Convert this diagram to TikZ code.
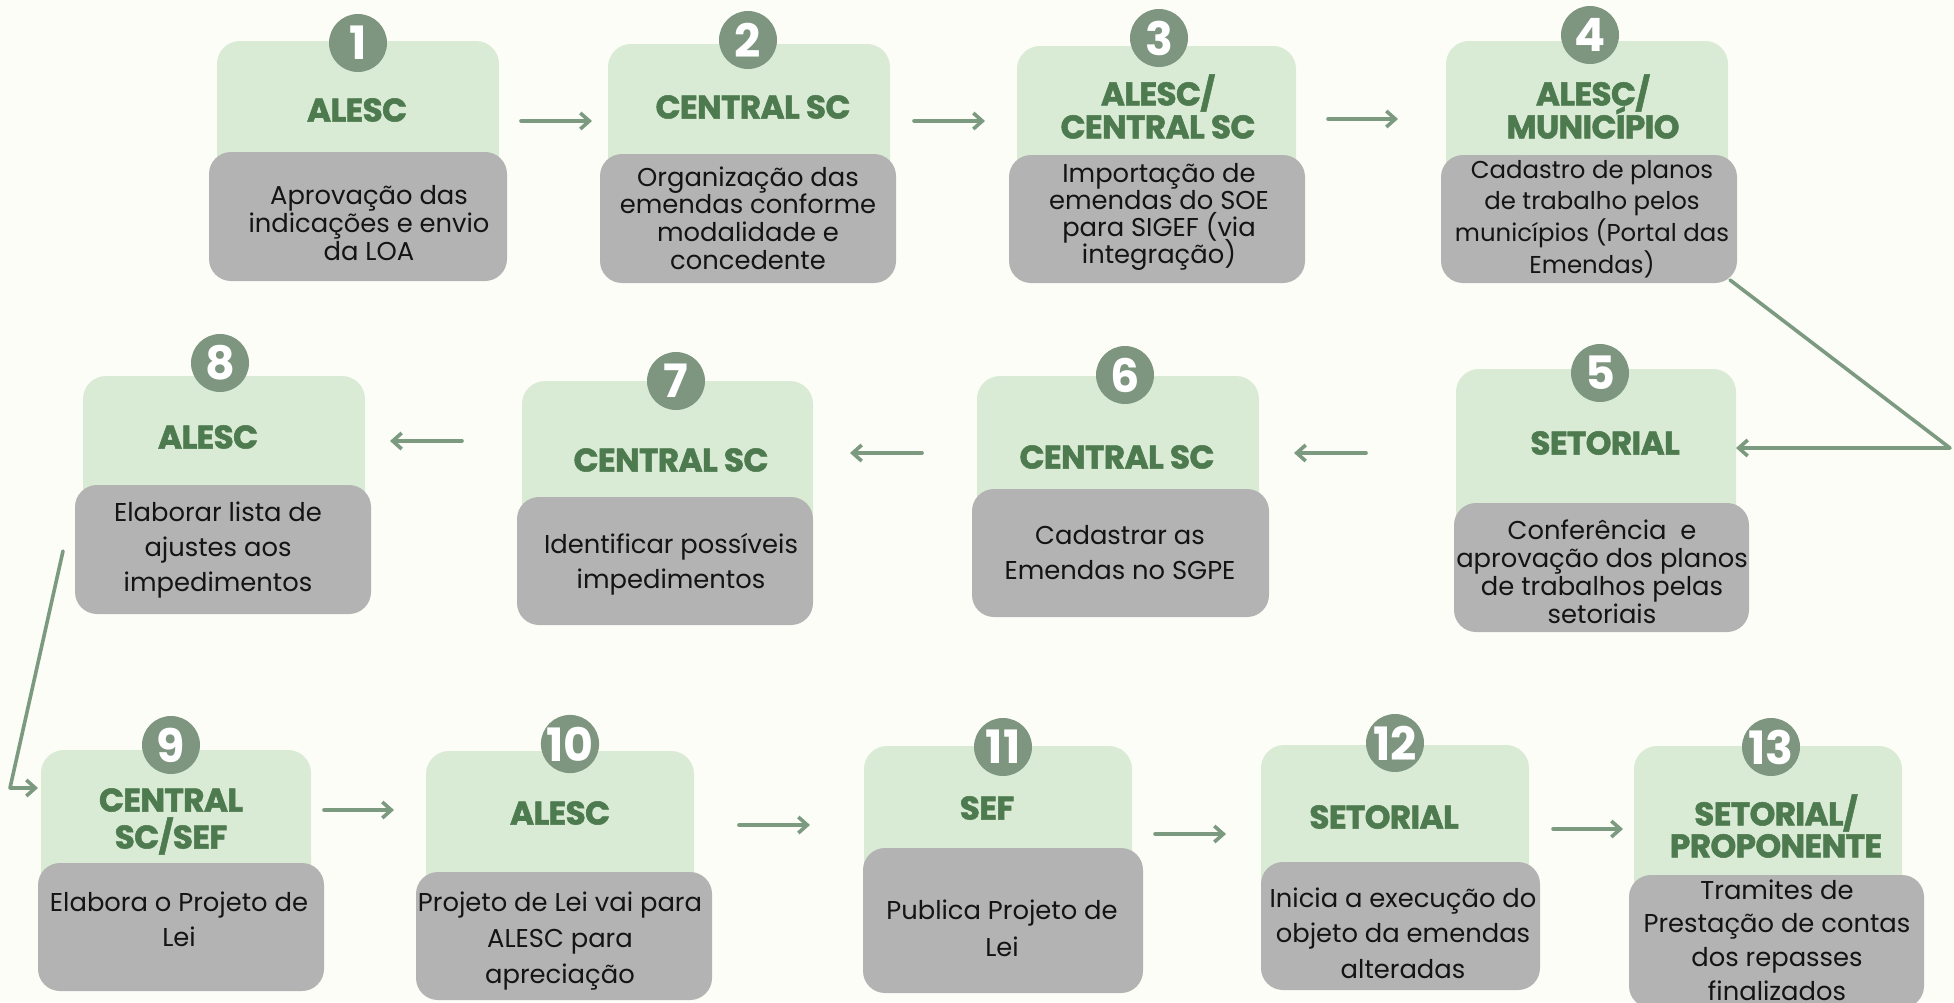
\documentclass[tikz,border=0pt]{standalone}
\usepackage{fontspec}
\setmainfont{Poppins}
\newfontfamily\ttlfont{Poppins}[BoldFeatures={FakeBold=1.6}, LetterSpace=-2.0]
\usetikzlibrary{arrows.meta,fit}
\definecolor{bgc}{HTML}{FDFDF8}
\definecolor{greenfill}{HTML}{D9EBD4}
\definecolor{grayfill}{HTML}{B3B3B3}
\definecolor{circc}{HTML}{7E9680}
\definecolor{titlec}{HTML}{4E7A50}
\definecolor{arrc}{HTML}{7B9A80}
\definecolor{bodyc}{HTML}{141414}
\begin{document}
\begin{tikzpicture}[x=0.5pt,y=-0.5pt,
  greenbox/.style={inner sep=0pt, outer sep=0pt, fill=greenfill, rounded corners=11.5pt},
  graybox/.style={inner sep=0pt, outer sep=0pt, fill=grayfill, rounded corners=11pt},
  numc/.style={circle, fill=circc, text=white, minimum size=29pt, inner sep=0pt,
    font={\fontsize{23}{23}\selectfont\bfseries}},
  ttl/.style={text=titlec, align=center, inner sep=0pt,
    font={\ttlfont\fontsize{16.4}{#1}\selectfont\bfseries\lineskiplimit=-50pt}},
  ttl/.default=16.5pt,
  bodytxt/.style={text=bodyc, align=center, inner sep=0pt,
    font={\fontsize{12.9}{#1}\selectfont\lineskiplimit=-50pt}},
  arr/.style={draw=arrc, line width=1.8pt, line cap=round, line join=round,
    -{Straight Barb[length=4.5pt,width=8pt,line width=1.8pt]}}
]
\path[use as bounding box] (0,0) rectangle (1954,1002);
\clip (0,0) rectangle (1954,1002);
\fill[bgc] (0,0) rectangle (1954,1002);

% ---------- Row 1 ----------
\node[greenbox, fit={(217,41) (499,200)}] (g1) {};
\node[graybox, fit={(209,152) (507,281)}] (k1) {};
\node[numc] (n1) at (358,43) {1};
\node[ttl] (t1) at (357,110) {ALESC};
\node[bodytxt=13.9pt] (b1) at (369,223) {Aprovação das\\indicações e envio\\da LOA};

\node[greenbox, fit={(608,44) (890,200)}] (g2) {};
\node[graybox, fit={(600,154) (896,283)}] (k2) {};
\node[numc] (n2) at (748,40) {2};
\node[ttl] (t2) at (753,107) {CENTRAL SC};
\node[bodytxt=13.9pt] (b2) at (748,218) {Organização das\\emendas conforme\\modalidade e\\concedente};

\node[greenbox, fit={(1017,46) (1296,200)}] (g3) {};
\node[graybox, fit={(1009,155) (1305,283)}] (k3) {};
\node[numc] (n3) at (1159,38) {3};
\node[ttl] (t3) at (1158,106.5) {ALESC/\\CENTRAL SC};
\node[bodytxt=13.5pt] (b3) at (1159,217) {Importação de\\emendas do SOE\\para SIGEF (via\\integração)};

\node[greenbox, fit={(1446,41) (1728,200)}] (g4) {};
\node[graybox, fit={(1441,155) (1737,283)}] (k4) {};
\node[numc] (n4) at (1590,35) {4};
\node[ttl] (t4) at (1593,106.5) {ALESC/\\MUNICÍPIO};
\node[bodytxt=15.8pt, font={\fontsize{12.2}{15.8}\selectfont\lineskiplimit=-50pt}] (b4) at (1592,219) {Cadastro de planos\\de trabalho pelos\\municípios (Portal das\\Emendas)};

% ---------- Row 2 ----------
\node[greenbox, fit={(1456,369) (1736,540)}] (g5) {};
\node[graybox, fit={(1454,503) (1749,632)}] (k5) {};
\node[numc] (n5) at (1600,373) {5};
\node[ttl] (t5) at (1605,443) {SETORIAL};
\node[bodytxt=14pt] (b5) at (1602,572) {Conferência\ \ e\\aprovação dos planos\\de trabalhos pelas\\setoriais};

\node[greenbox, fit={(977,376) (1259,530)}] (g6) {};
\node[graybox, fit={(972,489) (1269,617)}] (k6) {};
\node[numc] (n6) at (1125,375) {6};
\node[ttl] (t6) at (1117,457) {CENTRAL SC};
\node[bodytxt=17.5pt] (b6) at (1120,552.5) {Cadastrar as\\Emendas no SGPE};

\node[greenbox, fit={(522,381) (813,537)}] (g7) {};
\node[graybox, fit={(517,497) (813,625)}] (k7) {};
\node[numc] (n7) at (676,381) {7};
\node[ttl] (t7) at (671,460) {CENTRAL SC};
\node[bodytxt=17.5pt] (b7) at (671,564.5) {Identificar possíveis\\impedimentos};

\node[greenbox, fit={(83,376) (365,525)}] (g8) {};
\node[graybox, fit={(75,485) (371,614)}] (k8) {};
\node[numc] (n8) at (220,363) {8};
\node[ttl] (t8) at (208,437) {ALESC};
\node[bodytxt=17.5pt] (b8) at (218,550) {Elaborar lista de\\ajustes aos\\impedimentos};

% ---------- Row 3 ----------
\node[greenbox, fit={(41,750) (311,903)}] (g9) {};
\node[graybox, fit={(38,863) (324,991)}] (k9) {};
\node[numc] (n9) at (171,745) {9};
\node[ttl=18.5pt] (t9) at (171,821.5) {CENTRAL\\SC/SEF};
\node[bodytxt=17.5pt] (b9) at (179,919.5) {Elabora o Projeto de\\Lei};

\node[greenbox, fit={(426,751) (694,912)}] (g10) {};
\node[graybox, fit={(416,872) (712,1000)}] (k10) {};
\node[numc] (n10) at (570,744) {10};
\node[ttl] (t10) at (560,813) {ALESC};
\node[bodytxt=18pt] (b10) at (560,941) {Projeto de Lei vai para\\ALESC para\\apreciação};

\node[greenbox, fit={(864,746) (1132,888)}] (g11) {};
\node[graybox, fit={(863,848) (1143,993)}] (k11) {};
\node[numc] (n11) at (1003,747) {11};
\node[ttl] (t11) at (987,808) {SEF};
\node[bodytxt=18.5pt] (b11) at (1002,928.5) {Publica Projeto de\\Lei};

\node[greenbox, fit={(1261,745) (1529,902)}] (g12) {};
\node[graybox, fit={(1261,862) (1540,990)}] (k12) {};
\node[numc] (n12) at (1395,743) {12};
\node[ttl] (t12) at (1384,817) {SETORIAL};
\node[bodytxt=17.8pt] (b12) at (1403,933) {Inicia a execução do\\objeto da emendas\\alteradas};

\node[greenbox, fit={(1634,746) (1902,915)}] (g13) {};
\node[graybox, fit={(1629,875) (1924,1008)}] (k13) {};
\node[numc] (n13) at (1771,747) {13};
\node[ttl=16pt] (t13) at (1776,826) {SETORIAL/\\PROPONENTE};
\node[bodytxt=16.8pt] (b13) at (1777,940) {Tramites de\\Prestação de contas\\dos repasses\\finalizados};

% ---------- Connectors ----------
\coordinate (a1s) at (521,121);  \coordinate (a1e) at (592,121);
\coordinate (a2s) at (914,121);  \coordinate (a2e) at (985,121);
\coordinate (a3s) at (1328,119); \coordinate (a3e) at (1398,119);
\coordinate (a5s) at (1366,453); \coordinate (a5e) at (1294,453);
\coordinate (a6s) at (922,453);  \coordinate (a6e) at (850,453);
\coordinate (a7s) at (462,441);  \coordinate (a7e) at (390,441);
\coordinate (a9s) at (324,810);  \coordinate (a9e) at (394,810);
\coordinate (a10s) at (739,825); \coordinate (a10e) at (810,825);
\coordinate (a11s) at (1155,834); \coordinate (a11e) at (1226,834);
\coordinate (a12s) at (1553,829); \coordinate (a12e) at (1623,829);
\coordinate (c45) at (1950,448);
\coordinate (c89) at (10,788);

\draw[arr] (a1s) -- (a1e);
\draw[arr] (a2s) -- (a2e);
\draw[arr] (a3s) -- (a3e);
\draw[arr] ([xshift=-3.5pt,yshift=1.5pt]k4.south east) -- (c45) -- (g5.east |- c45);
\draw[arr] (a5s) -- (a5e);
\draw[arr] (a6s) -- (a6e);
\draw[arr] (a7s) -- (a7e);
\draw[arr, shorten >=1.5pt] ([xshift=-6pt,yshift=-0.75pt]k8.west) -- (c89) -- (g9.west |- c89);
\draw[arr] (a9s) -- (a9e);
\draw[arr] (a10s) -- (a10e);
\draw[arr] (a11s) -- (a11e);
\draw[arr] (a12s) -- (a12e);
\end{tikzpicture}
\end{document}
